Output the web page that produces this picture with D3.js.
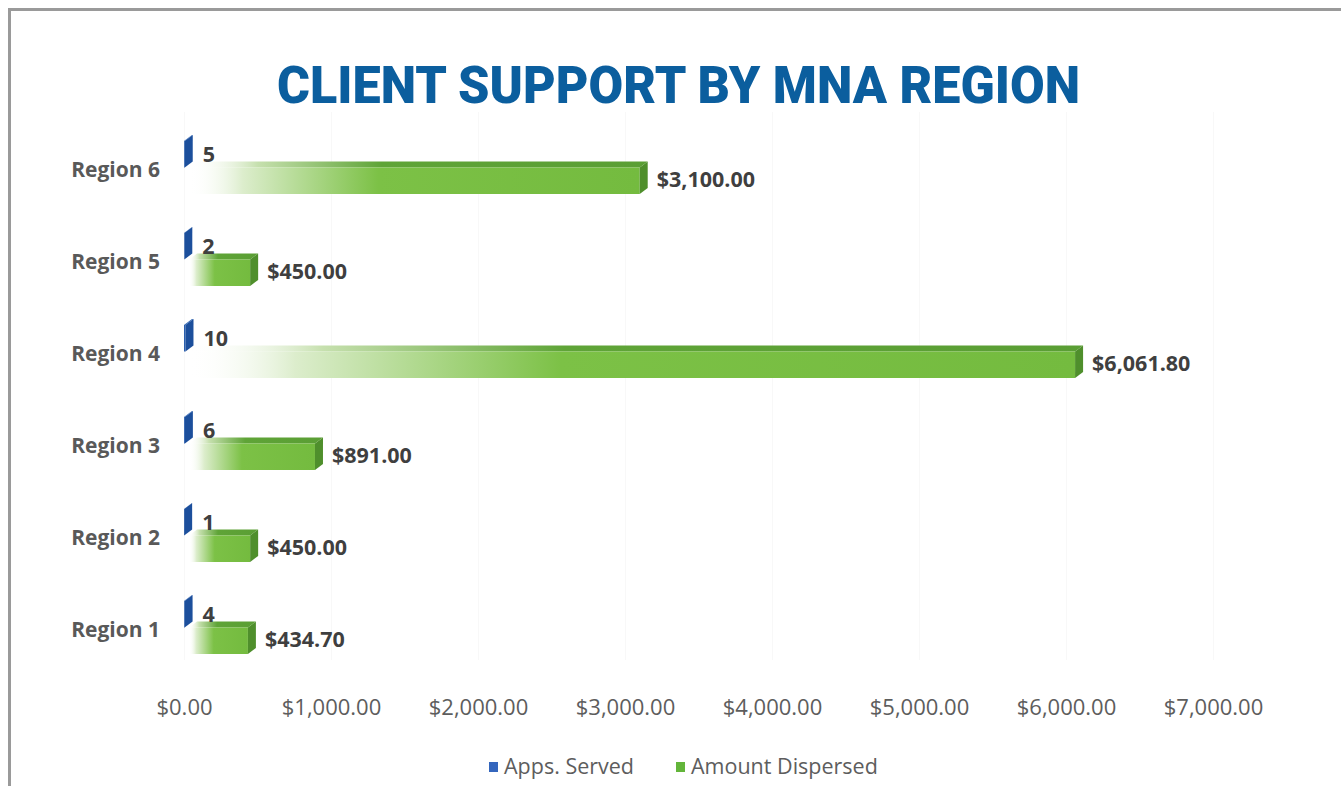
<!DOCTYPE html>
<html>
<head>
<meta charset="utf-8">
<script src="https://cdn.jsdelivr.net/npm/d3@7"></script>
<style>
  html, body { margin: 0; padding: 0; background: #fff; }
  svg { display: block; }
</style>
</head>
<body>
<div id="chart"></div>
<script>
// Data
const regions = ["Region 1", "Region 2", "Region 3", "Region 4", "Region 5", "Region 6"];
const appsServed = [4, 1, 6, 10, 2, 5];
const amountDispersed = [434.70, 450.00, 891.00, 6061.80, 450.00, 3100.00];
const seriesNames = ["Apps. Served", "Amount Dispersed"];
const xTicks = [0, 1000, 2000, 3000, 4000, 5000, 6000, 7000];

const width = 1341;
const height = 786;

// depth of the fake 3D bars
const dx = 8;
const dy = -6;

const svg = d3.select("#chart").append("svg")
  .attr("width", width)
  .attr("height", height);

const defs = svg.append("defs");

const gFront = defs.append("linearGradient").attr("id", "greenFront");
gFront.append("stop").attr("offset", "0").attr("stop-color", "#ffffff").attr("stop-opacity", 0);
gFront.append("stop").attr("offset", "0.12").attr("stop-color", "#dcedcc");
gFront.append("stop").attr("offset", "0.42").attr("stop-color", "#7cc146");
gFront.append("stop").attr("offset", "1").attr("stop-color", "#74bb3f");

const gTop = defs.append("linearGradient").attr("id", "greenTop");
gTop.append("stop").attr("offset", "0").attr("stop-color", "#ffffff").attr("stop-opacity", 0);
gTop.append("stop").attr("offset", "0.15").attr("stop-color", "#c6e0ae");
gTop.append("stop").attr("offset", "0.42").attr("stop-color", "#5fa437");
gTop.append("stop").attr("offset", "1").attr("stop-color", "#5a9e34");

// frame
svg.append("path")
  .attr("d", `M9.5,${height} V9.5 H${width}`)
  .attr("fill", "none")
  .attr("stroke", "#9a9a9a")
  .attr("stroke-width", 3);

// title
svg.append("text")
  .attr("x", 277)
  .attr("y", 103)
  .attr("textLength", 803)
  .attr("lengthAdjust", "spacingAndGlyphs")
  .attr("font-family", "Roboto, 'Liberation Sans', sans-serif")
  .attr("font-weight", 900)
  .attr("font-size", 51)
  .attr("fill", "#0b5e9e")
  .text("CLIENT SUPPORT BY MNA REGION");

// scales
const x = d3.scaleLinear()
  .domain([0, 7000])
  .range([184, 1213]);

const y = d3.scaleBand()
  .domain(regions.slice().reverse())
  .range([121.5, 673.5])
  .paddingInner(0.424)
  .paddingOuter(0.212);

const ySub = d3.scaleBand()
  .domain(seriesNames)
  .range([0, y.bandwidth()]);

// very faint gridlines
svg.append("g")
  .selectAll("line")
  .data(xTicks)
  .join("line")
  .attr("x1", d => x(d) + 0.5)
  .attr("x2", d => x(d) + 0.5)
  .attr("y1", 112)
  .attr("y2", 660)
  .attr("stroke", "#f8f8f8")
  .attr("stroke-width", 1);

// x axis labels
const xAxis = d3.axisBottom(x)
  .tickValues(xTicks)
  .tickSize(0)
  .tickPadding(0)
  .tickFormat(d => "$" + d3.format(",.2f")(d));

svg.append("g")
  .attr("transform", "translate(0,700)")
  .call(xAxis)
  .call(g => g.select(".domain").remove())
  .call(g => g.selectAll("text")
    .attr("font-family", "'Open Sans', sans-serif")
    .attr("font-size", 22)
    .attr("fill", "#5d5d5d")
    .attr("dy", "0.35em")
    .attr("y", 7));

// y axis labels
const yAxis = d3.axisLeft(y).tickSize(0).tickPadding(0);
svg.append("g")
  .attr("transform", "translate(160,3)")
  .call(yAxis)
  .call(g => g.select(".domain").remove())
  .call(g => g.selectAll("text")
    .attr("font-family", "'Open Sans', sans-serif")
    .attr("font-weight", 700)
    .attr("font-size", 21)
    .attr("fill", "#595959"));

const rows = regions.map((r, i) => ({ region: r, apps: appsServed[i], amount: amountDispersed[i] }));

function bar3d(g, x0, x1, y0, y1, colors) {
  // top face
  g.append("path")
    .attr("d", `M${x0},${y0} L${x0 + dx},${y0 + dy} L${x1 + dx},${y0 + dy} L${x1},${y0} Z`)
    .attr("fill", colors.top);
  // front face
  if (x1 - x0 > 0.5) {
    g.append("rect")
      .attr("x", x0).attr("y", y0)
      .attr("width", x1 - x0).attr("height", y1 - y0)
      .attr("fill", colors.front);
  }
  // side face
  g.append("path")
    .attr("d", `M${x1},${y0} L${x1 + dx},${y0 + dy} L${x1 + dx},${y1 + dy} L${x1},${y1} Z`)
    .attr("fill", colors.side);
}

const barsG = svg.append("g");

rows.forEach(d => {
  const g = barsG.append("g");
  const by = y(d.region);

  // Apps. Served (tiny on the dollar axis)
  const a0 = by + ySub("Apps. Served");
  const a1 = a0 + ySub.bandwidth();
  bar3d(g, x(0), x(d.apps), a0, a1, { top: "#2b63b3", front: "#2a5fae", side: "#1c4f9c" });

  // Amount Dispersed
  const m0 = by + ySub("Amount Dispersed");
  const m1 = m0 + ySub.bandwidth();
  bar3d(g, x(0) + 5, x(d.amount), m0, m1, { top: "url(#greenTop)", front: "url(#greenFront)", side: "#4f8f2c" });

  // labels
  g.append("text")
    .attr("x", x(d.apps) + dx + 10)
    .attr("y", (a0 + a1) / 2 + 2)
    .attr("dominant-baseline", "middle")
    .attr("font-family", "'Open Sans', sans-serif")
    .attr("font-weight", 700)
    .attr("font-size", 21.5)
    .attr("fill", "#3f3f3f")
    .text(d.apps);

  g.append("text")
    .attr("x", x(d.amount) + dx + 9)
    .attr("y", (m0 + m1) / 2 + 1)
    .attr("dominant-baseline", "middle")
    .attr("font-family", "'Open Sans', sans-serif")
    .attr("font-weight", 700)
    .attr("font-size", 21.5)
    .attr("fill", "#3f3f3f")
    .text("$" + d3.format(",.2f")(d.amount));
});

// legend
const legend = svg.append("g").attr("transform", "translate(489,768)");
const legendColors = ["#3466bd", "#63b53a"];
const legendX = [0, 187];
seriesNames.forEach((s, i) => {
  legend.append("rect")
    .attr("x", legendX[i]).attr("y", -6)
    .attr("width", 9).attr("height", 10)
    .attr("fill", legendColors[i]);
  legend.append("text")
    .attr("x", legendX[i] + 15)
    .attr("y", 0)
    .attr("dominant-baseline", "middle")
    .attr("font-family", "'Open Sans', sans-serif")
    .attr("font-size", 21.5)
    .attr("fill", "#5d5d5d")
    .text(s);
});
</script>
</body>
</html>
